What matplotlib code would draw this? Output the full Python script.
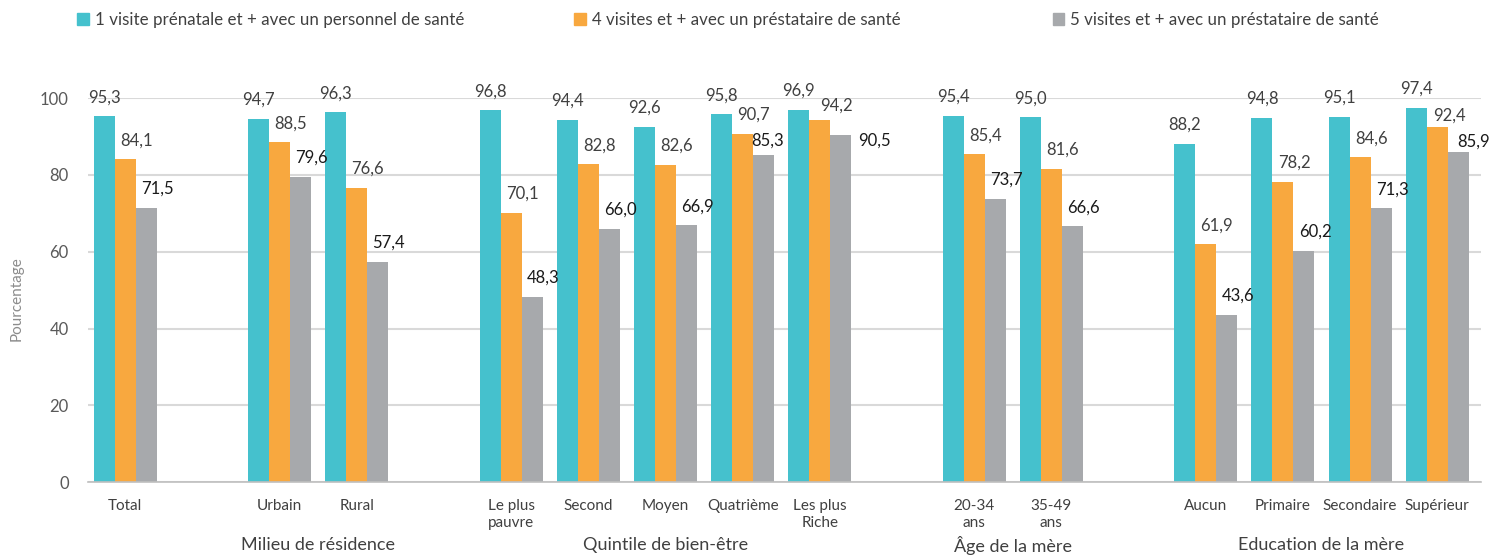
import matplotlib

matplotlib.use("Agg")
import matplotlib.pyplot as plt
from matplotlib.patches import Patch

plt.rcParams["font.family"] = ["Lato", "DejaVu Sans"]

categories = ["Total", "Urbain", "Rural", "Le plus\npauvre", "Second", "Moyen",
              "Quatrième", "Les plus\nRiche", "20-34\nans", "35-49\nans",
              "Aucun", "Primaire", "Secondaire", "Supérieur"]
slots = [0, 2, 3, 5, 6, 7, 8, 9, 11, 12, 14, 15, 16, 17]
groups = ["Milieu de résidence", "Quintile de bien-être", "Âge de la mère", "Education de la mère"]
group_slots = [(2, 3), (5, 9), (11, 12), (14, 17)]

visite1 = [95.3, 94.7, 96.3, 96.8, 94.4, 92.6, 95.8, 96.9, 95.4, 95.0, 88.2, 94.8, 95.1, 97.4]
visite4 = [84.1, 88.5, 76.6, 70.1, 82.8, 82.6, 90.7, 94.2, 85.4, 81.6, 61.9, 78.2, 84.6, 92.4]
visite5 = [71.5, 79.6, 57.4, 48.3, 66.0, 66.9, 85.3, 90.5, 73.7, 66.6, 43.6, 60.2, 71.3, 85.9]

series = [
    ("1 visite prénatale et + avec un personnel de santé", visite1, "#45C1CD", "#404040", 0),
    ("4 visites et + avec un préstataire de santé", visite4, "#F8A83F", "#404040", 8),
    ("5 visites et + avec un préstataire de santé", visite5, "#A7A9AC", "#1A1A1A", 8),
]

# hand-moved data labels in the original: (series, category) -> offset in points
label_nudge = {
    (1, 7): (12, 5),
    (2, 7): (24, -10),
    (1, 13): (9, 3),
    (2, 13): (11, 2),
    (2, 6): (3, 4),
}

fig = plt.figure(figsize=(14.94, 5.58), dpi=100)
ax = fig.add_axes([0.059, 0.136, 0.932, 0.688])

w = 0.272
for i, (label, vals, color, tcolor, dx) in enumerate(series):
    xs = [s + (i - 1) * w for s in slots]
    ax.bar(xs, vals, width=w, color=color, zorder=2, label=label)
    for j, (x, v) in enumerate(zip(xs, vals)):
        off = label_nudge.get((i, j), (dx, 8))
        ax.annotate(f"{v:.1f}".replace(".", ","), (x, v), xytext=off,
                    textcoords="offset points", ha="center", va="bottom",
                    fontsize=12, color=tcolor, annotation_clip=False)

ax.set_xlim(-0.48, 17.56)
ax.set_ylim(0, 100)
ax.set_yticks(range(0, 101, 20))
ax.tick_params(axis="y", length=0, labelsize=12, labelcolor="#595959", pad=14)
ax.set_xticks(slots)
ax.set_xticklabels(categories, fontsize=11, color="#404040", linespacing=1.25)
ax.tick_params(axis="x", length=0, pad=12)
ax.grid(axis="y", color="#D9D9D9", lw=1.5, zorder=0)
for sp in ["top", "right", "left"]:
    ax.spines[sp].set_visible(False)
ax.spines["bottom"].set_color("#BFBFBF")
ax.spines["bottom"].set_linewidth(1.2)
ax.spines["bottom"].set_zorder(3)

ax.set_ylabel("Pourcentage", fontsize=11, color="#8C8C8C")
ax.yaxis.set_label_coords(-0.046, 0.477)

for name, (a, b) in zip(groups, group_slots):
    ax.text((a + b) / 2, -0.164, name, transform=ax.get_xaxis_transform(),
            ha="center", va="center", fontsize=13, color="#404040")

legend_x = [0.047, 0.380, 0.700]
for (label, vals, color, tcolor, dx), lx in zip(series, legend_x):
    fig.legend(handles=[Patch(color=color)], labels=[label], loc="center left",
               bbox_to_anchor=(lx, 0.964), frameon=False, fontsize=12.2,
               handlelength=0.7, handleheight=0.7, handletextpad=0.35,
               borderaxespad=0, labelcolor="#404040")

fig.savefig("out.png", dpi=100)
